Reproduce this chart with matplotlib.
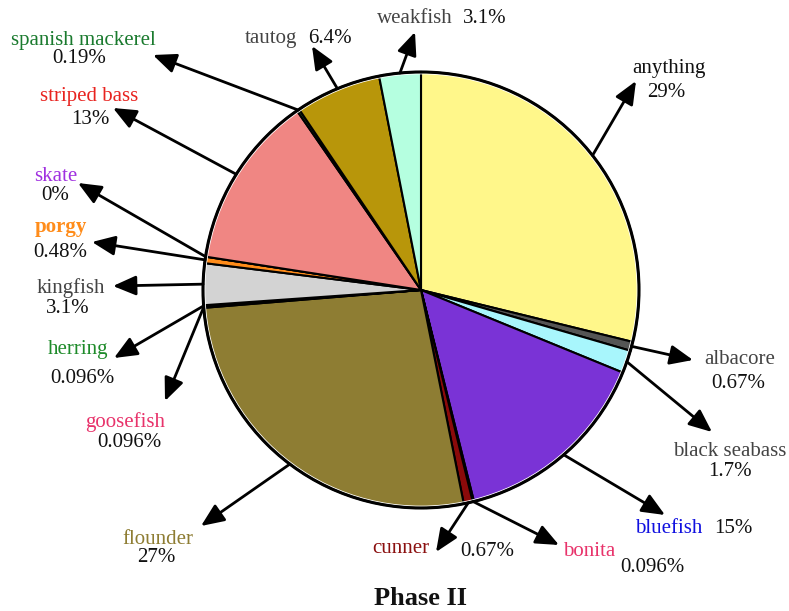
import matplotlib
matplotlib.use("Agg")
import matplotlib.pyplot as plt
import numpy as np
from matplotlib.patches import Circle

W, H = 789, 611

categories = ["anything", "albacore", "black seabass", "bluefish", "bonita", "cunner",
              "flounder", "goosefish", "herring", "kingfish", "porgy", "skate",
              "striped bass", "spanish mackerel", "tautog", "weakfish"]
values = [29, 0.67, 1.7, 15, 0.096, 0.67, 27, 0.096, 0.096, 3.1, 0.48, 0, 13, 0.19, 6.4, 3.1]

fill_colors = ["#FFF78A", "#555555", "#A8F6FC", "#7A33D6", "#E8336B", "#8B0A0A",
               "#8E7D33", "#E8336B", "#228B22", "#D3D3D3", "#FF8C1A", "#A020F0",
               "#F08683", "#1E6B2E", "#B8960A", "#B5FFE0"]
label_colors = ["#111111", "#444444", "#444444", "#1010E0", "#E8336B", "#8B1010",
                "#8E7D33", "#E8336B", "#1E8B2A", "#444444", "#FF8C1A", "#A030E0",
                "#E8231F", "#1A7A2E", "#444444", "#444444"]
bold = [c == "porgy" for c in categories]

# layout (pixel coordinates): name position, pct position, arrow tip
name_pos = [(669, 73), (740, 364), (730, 456), (669, 533), (589, 556), (401, 553),
            (158, 544), (125, 427), (78, 354), (71, 293), (61, 232), (56, 181),
            (89, 101), (83, 45), (271, 43), (415, 23)]
pct_pos = [(666, 97), (738, 388), (730, 476), (733, 533), (652, 572), (487, 556),
           (156, 562), (129, 447), (82, 383), (68, 313), (60, 257), (55, 200),
           (90, 124), (79, 63), (330, 43), (485, 23)]
tips = [(636, 81), (693, 360), (712, 432), (665, 515), (559, 545), (436, 552),
        (201, 526), (165, 401), (114, 358), (113, 286), (92, 242), (78, 183),
        (113, 108), (153, 55), (312, 46), (415, 32)]

plt.rcParams['font.family'] = ['Liberation Serif', 'DejaVu Serif']

fig = plt.figure(figsize=(W / 100, H / 100), dpi=100)
ax = fig.add_axes([0, 0, 1, 1])

cx, cy, R = 421, H - 290, 218

wedges, _ = ax.pie(values, colors=fill_colors, startangle=90, counterclock=False,
                   center=(cx, cy), radius=R, normalize=True,
                   wedgeprops=dict(edgecolor="black", linewidth=1.5))
ax.add_patch(Circle((cx, cy), R - 1.8, fill=False, edgecolor="white", linewidth=0.8, zorder=3))
ax.add_patch(Circle((cx, cy), R, fill=False, edgecolor="black", linewidth=2.2, zorder=4))

fs = 15
for i, w in enumerate(wedges):
    ang = np.deg2rad((w.theta1 + w.theta2) / 2)
    start = (cx + R * np.cos(ang), cy + R * np.sin(ang))
    tx, ty = tips[i]
    ax.annotate("", xy=(tx, H - ty), xytext=start,
                arrowprops=dict(arrowstyle="-|>,head_length=0.7,head_width=0.3",
                                color="black", lw=2, mutation_scale=20,
                                shrinkA=0, shrinkB=0), zorder=5)
    nx, ny = name_pos[i]
    ax.text(nx, H - ny, categories[i], ha="center", va="baseline", fontsize=fs,
            color=label_colors[i], fontweight="bold" if bold[i] else "normal")
    px, py = pct_pos[i]
    ax.text(px, H - py, "{:.2g}%".format(values[i]), ha="center", va="baseline",
            fontsize=fs, color="#111111")

ax.text(421, H - 605, "Phase II", ha="center", va="baseline", fontsize=19,
        fontweight="bold", color="#111111")

ax.set_xlim(0, W)
ax.set_ylim(0, H)
ax.set_aspect("auto")
ax.axis("off")

fig.savefig("out.png", dpi=100)
